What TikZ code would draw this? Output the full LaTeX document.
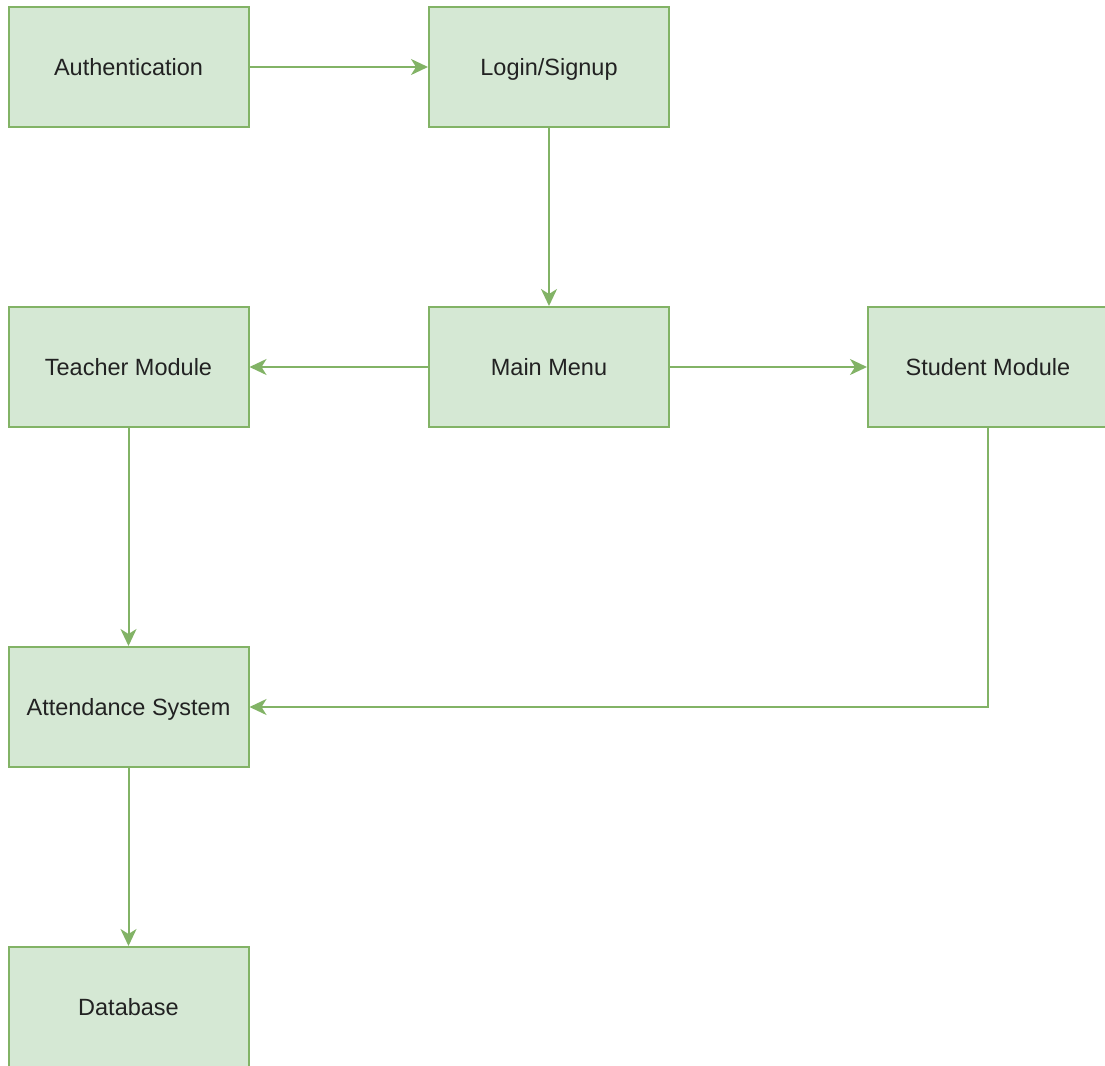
\documentclass[tikz,border=0pt]{standalone}
\usepackage{fontspec}
\setmainfont{Liberation Sans}
\usetikzlibrary{arrows.meta}
\definecolor{boxfill}{HTML}{D5E8D4}
\definecolor{boxline}{HTML}{82B366}
\definecolor{labeltext}{HTML}{222222}
\begin{document}
\begin{tikzpicture}[x=1pt,y=-1pt,
  block/.style={draw=boxline,fill=boxfill,line width=2pt,minimum width=240pt,minimum height=120pt,
    inner sep=0pt,text height=20pt,text depth=3pt,text=labeltext,font=\fontsize{23.5}{28}\selectfont},
  flow/.style={draw=boxline,line width=2pt,-{Stealth[length=17pt,width=16pt,inset=5pt]}}]
\useasboundingbox (0,0) rectangle (1105,1065);
\clip (0,0) rectangle (1105,1065);
% modules
\node[block] (auth)    at (128.5,67)  {Authentication};
\node[block] (login)   at (549,67)    {Login/Signup};
\node[block] (teacher) at (128.5,367) {Teacher Module};
\node[block] (menu)    at (549,367)   {Main Menu};
\node[block] (student) at (988,367)   {Student Module};
\node[block] (attend)  at (128.5,707) {Attendance System};
\node[block] (db)      at (128.5,1007) {Database};
% flow between modules
\draw[flow] (auth) -- (login);
\draw[flow] (login) -- (menu);
\draw[flow] (menu) -- (teacher);
\draw[flow] (menu) -- (student);
\draw[flow] (teacher) -- (attend);
\draw[flow] (student.south) |- (attend.east);
\draw[flow] (attend) -- (db);
\end{tikzpicture}
\end{document}
